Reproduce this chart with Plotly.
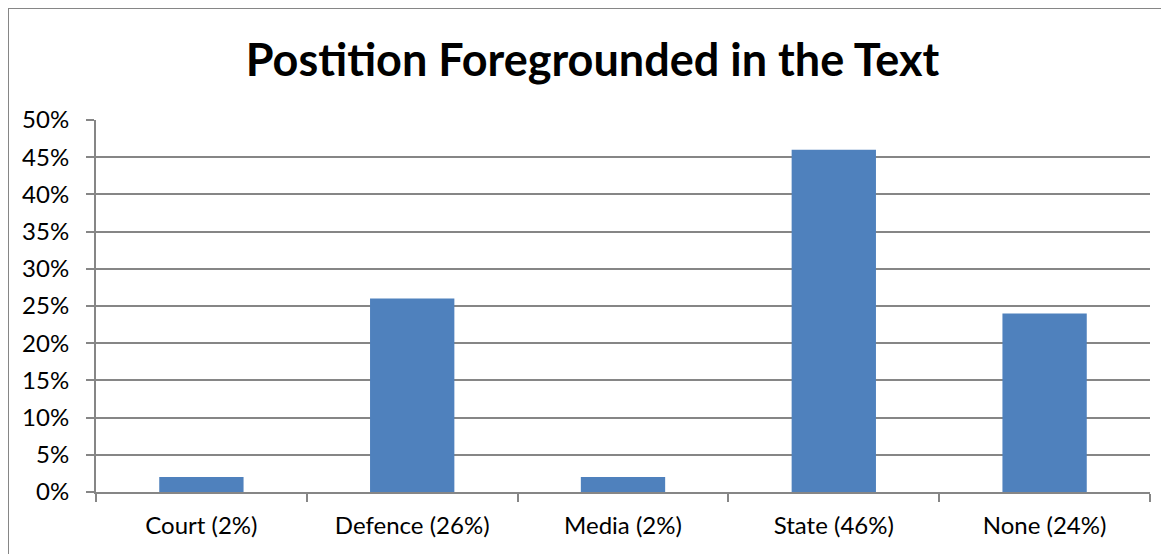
import plotly.graph_objects as go

categories = ["Court (2%)", "Defence (26%)", "Media (2%)", "State (46%)", "None (24%)"]
shares = [0.02, 0.26, 0.02, 0.46, 0.24]

grey = "#868686"
font = "Lato, Calibri, 'Open Sans', sans-serif"

fig = go.Figure(go.Bar(
    x=categories, y=shares, width=0.4,
    marker=dict(color="#4F81BD", line=dict(width=0)),
))

fig.update_layout(
    width=1169, height=554,
    margin=dict(l=88, r=27, t=112, b=70),
    paper_bgcolor="white", plot_bgcolor="white",
    showlegend=False,
    title=dict(text="<b>Postition Foregrounded in the Text</b>", x=0.5, xanchor="center",
               y=0.906, yanchor="middle", font=dict(family=font, size=45, color="black")),
    font=dict(family=font, size=24, color="black"),
)
fig.update_xaxes(
    type="category", showline=True, linecolor=grey, linewidth=2,
    ticks="outside", tickson="boundaries", ticklen=8, tickcolor=grey, tickwidth=2,
    showgrid=False, tickfont=dict(size=24), ticklabelstandoff=11,
)
fig.update_yaxes(
    range=[0, 0.5], dtick=0.05, tickformat=".0%",
    showline=True, linecolor=grey, linewidth=2,
    ticks="outside", ticklen=8, tickcolor=grey, tickwidth=2,
    showgrid=True, gridcolor=grey, gridwidth=1.5, zeroline=False,
    tickfont=dict(size=24), ticklabelstandoff=12,
)
fig.add_shape(type="rect", xref="paper", yref="paper", x0=-0.0835, x1=1.2, y0=-0.4, y1=1.301,
              line=dict(color=grey, width=2), fillcolor="rgba(0,0,0,0)", layer="below")

fig.write_html("out.html")
